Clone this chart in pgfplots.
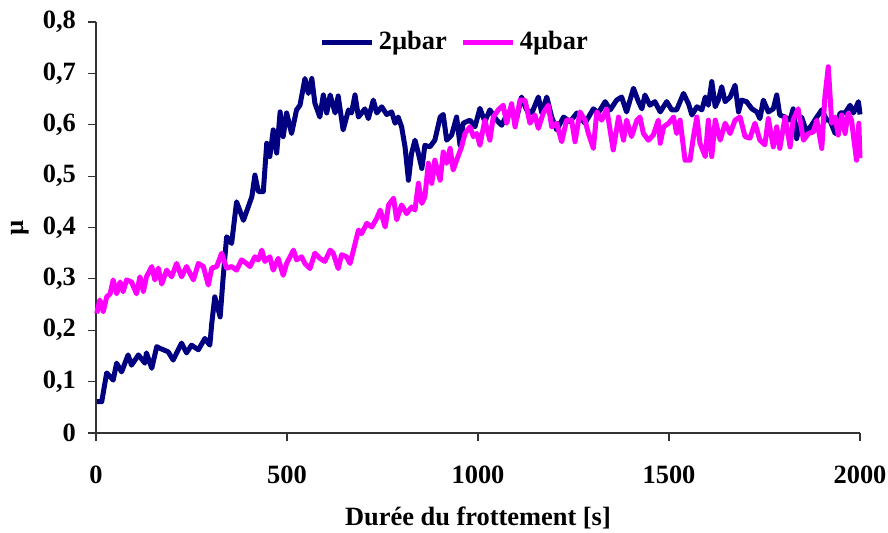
\documentclass[border=0pt]{standalone}
\usepackage{fontspec}
\setmainfont{Liberation Serif}
\usepackage{pgfplots}
\pgfplotsset{compat=1.18}
\definecolor{navyline}{RGB}{0,0,128}
\definecolor{pinkline}{RGB}{255,0,255}
\newcommand\chartfont{\bfseries\fontsize{13.2}{15}\selectfont}
\begin{document}
\begin{tikzpicture}
\useasboundingbox (-48pt,-49.5pt) rectangle (396pt,216.5pt);
\begin{axis}[
    at={(0,0)}, anchor=south west,
    scale only axis, width=382pt, height=205.5pt,
    xmin=0, xmax=2000, ymin=0, ymax=0.8,
    clip=false,
    axis lines*=left,
    axis line style={line width=0.6pt, black!80},
    tick align=outside, major tick length=4pt,
    tick style={line width=0.6pt, black!80},
    xtick={0,500,1000,1500,2000},
    ytick={0,0.1,0.2,0.3,0.4,0.5,0.6,0.7,0.8},
    /pgf/number format/assume math mode=true,
    xticklabel style={yshift=-9pt, /pgf/number format/set thousands separator={}},
    yticklabel style={xshift=-2.5pt, /pgf/number format/.cd, use comma, fixed, precision=1},
    ticklabel style={font=\chartfont},
    xlabel={Durée du frottement [s]},
    ylabel={µ},
    every axis x label/.style={at={(axis description cs:0.5,0)}, yshift=-42.5pt, anchor=center, font=\chartfont},
    every axis y label/.style={at={(axis description cs:0,0.5)}, xshift=-38pt, anchor=center, rotate=90, font=\chartfont},
    legend style={at={(axis description cs:0.471,0.951)}, anchor=center,
        draw=none, fill=none, font=\chartfont, legend columns=2,
        /tikz/every even column/.append style={column sep=5pt}},
    legend image code/.code={\draw[#1] (0pt,0pt) -- (25pt,0pt);},
    every axis plot/.append style={line width=2.5pt, line join=round, mark=none},
]
\addplot[navyline] coordinates {
(2,0.061)(15,0.061)(28,0.117)(45,0.103)(54,0.136)(67,0.119)(84,0.152)(93,0.132)(111,0.152)(128,0.136)
(132,0.156)(146,0.126)(159,0.168)(167,0.165)(189,0.158)(202,0.142)(224,0.175)(237,0.156)(250,0.171)(268,0.162)
(285,0.184)(298,0.171)(303,0.213)(311,0.265)(325,0.226)(333,0.304)(342,0.382)(355,0.369)(368,0.450)(386,0.414)
(408,0.460)(416,0.502)(425,0.470)(438,0.470)(447,0.564)(455,0.538)(464,0.590)(473,0.545)(482,0.625)(490,0.577)
(499,0.623)(512,0.583)(525,0.629)(534,0.638)(547,0.690)(556,0.661)(565,0.690)(573,0.642)(586,0.615)(595,0.658)
(604,0.623)(613,0.658)(626,0.623)(634,0.656)(647,0.590)(661,0.629)(669,0.623)(678,0.658)(687,0.615)(704,0.631)
(713,0.612)(726,0.648)(735,0.623)(748,0.635)(761,0.620)(774,0.625)(783,0.603)(791,0.615)(800,0.596)(809,0.557)
(818,0.492)(826,0.544)(835,0.570)(844,0.544)(853,0.515)(861,0.560)(874,0.557)(887,0.570)(901,0.615)(909,0.620)
(918,0.570)(931,0.580)(944,0.615)(953,0.560)(961,0.603)(979,0.609)(992,0.596)(1005,0.632)(1018,0.606)(1031,0.629)
(1049,0.609)(1062,0.599)(1075,0.619)(1088,0.631)(1101,0.612)(1114,0.654)(1127,0.629)(1141,0.623)(1158,0.654)(1167,0.623)
(1180,0.654)(1193,0.615)(1206,0.590)(1224,0.615)(1241,0.606)(1259,0.623)(1280,0.603)(1302,0.631)(1315,0.623)(1333,0.645)
(1346,0.629)(1363,0.648)(1376,0.654)(1389,0.625)(1407,0.671)(1420,0.645)(1429,0.631)(1437,0.658)(1450,0.638)(1463,0.645)
(1477,0.625)(1494,0.645)(1507,0.629)(1520,0.629)(1538,0.661)(1551,0.641)(1560,0.619)(1573,0.635)(1586,0.629)(1595,0.654)
(1603,0.638)(1612,0.684)(1621,0.635)(1629,0.648)(1638,0.674)(1647,0.645)(1660,0.654)(1673,0.677)(1682,0.625)(1690,0.648)
(1703,0.645)(1717,0.631)(1730,0.625)(1738,0.612)(1747,0.648)(1760,0.625)(1773,0.631)(1782,0.658)(1790,0.619)(1804,0.615)
(1817,0.609)(1825,0.631)(1834,0.573)(1847,0.615)(1860,0.586)(1873,0.599)(1887,0.615)(1900,0.629)(1913,0.609)(1921,0.609)
(1935,0.583)(1948,0.623)(1961,0.623)(1974,0.638)(1983,0.623)(1996,0.645)(2000,0.620)
};
\addlegendentry{2µbar}
\addplot[pinkline] coordinates {
(2,0.233)(10,0.259)(19,0.236)(28,0.265)(37,0.271)(45,0.298)(54,0.271)(63,0.294)(71,0.275)(80,0.298)
(93,0.294)(106,0.271)(115,0.304)(124,0.275)(132,0.304)(146,0.324)(154,0.298)(163,0.321)(172,0.290)(185,0.317)
(198,0.304)(211,0.330)(224,0.304)(237,0.324)(255,0.298)(268,0.330)(281,0.324)(294,0.288)(303,0.321)(316,0.324)
(329,0.350)(342,0.321)(355,0.324)(368,0.317)(381,0.337)(394,0.330)(403,0.324)(416,0.343)(425,0.337)(434,0.356)
(442,0.334)(455,0.343)(464,0.317)(477,0.340)(490,0.307)(499,0.330)(508,0.343)(517,0.356)(525,0.337)(538,0.343)
(547,0.330)(560,0.320)(573,0.350)(586,0.340)(599,0.334)(613,0.356)(621,0.350)(634,0.320)(643,0.347)(656,0.343)
(665,0.330)(674,0.356)(687,0.395)(695,0.388)(709,0.408)(722,0.401)(735,0.418)(744,0.434)(757,0.401)(766,0.444)
(779,0.457)(787,0.415)(800,0.444)(813,0.427)(826,0.440)(835,0.434)(844,0.486)(853,0.447)(861,0.460)(870,0.525)
(879,0.486)(887,0.531)(901,0.492)(909,0.547)(918,0.525)(927,0.554)(935,0.512)(944,0.531)(957,0.557)(966,0.583)
(979,0.596)(988,0.577)(997,0.583)(1005,0.560)(1018,0.609)(1031,0.570)(1040,0.615)(1053,0.629)(1066,0.638)(1075,0.603)
(1088,0.641)(1097,0.596)(1110,0.648)(1123,0.648)(1136,0.603)(1149,0.619)(1158,0.593)(1171,0.623)(1184,0.638)(1193,0.596)
(1206,0.603)(1219,0.567)(1232,0.609)(1245,0.609)(1254,0.567)(1267,0.625)(1280,0.609)(1289,0.583)(1302,0.554)(1311,0.625)
(1324,0.609)(1337,0.631)(1354,0.551)(1368,0.615)(1381,0.570)(1389,0.609)(1402,0.577)(1416,0.609)(1424,0.615)(1433,0.583)
(1446,0.570)(1459,0.580)(1472,0.609)(1477,0.564)(1486,0.596)(1499,0.603)(1512,0.615)(1520,0.583)(1529,0.609)(1542,0.531)
(1555,0.531)(1564,0.577)(1573,0.615)(1581,0.564)(1595,0.538)(1603,0.609)(1612,0.538)(1621,0.609)(1634,0.570)(1647,0.603)
(1660,0.583)(1673,0.609)(1686,0.615)(1699,0.577)(1712,0.574)(1725,0.603)(1738,0.570)(1751,0.561)(1760,0.612)(1773,0.557)
(1782,0.596)(1790,0.554)(1804,0.615)(1817,0.557)(1825,0.609)(1838,0.631)(1852,0.570)(1865,0.583)(1878,0.586)(1887,0.609)
(1900,0.554)(1908,0.654)(1917,0.713)(1926,0.603)(1935,0.615)(1943,0.580)(1952,0.619)(1961,0.583)(1969,0.623)(1978,0.609)
(1983,0.577)(1991,0.531)(1997,0.603)(2000,0.535)
};
\addlegendentry{4µbar}
\end{axis}
\end{tikzpicture}
\end{document}
